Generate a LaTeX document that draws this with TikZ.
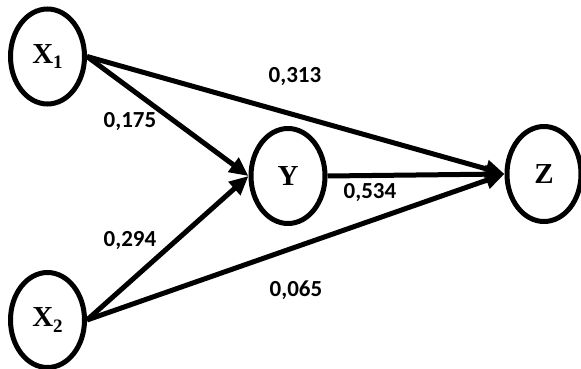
\documentclass[tikz,border=0pt]{standalone}
\usepackage{fontspec}
\setmainfont{Liberation Serif}
\newfontfamily\labelfont{Carlito}
\usetikzlibrary{shapes.geometric,arrows.meta}
\tikzset{
  var/.style={ellipse, draw, line width=5pt, minimum width=74pt, minimum height=95pt, inner sep=0pt,
    font=\fontsize{29}{29}\selectfont\bfseries},
  path/.style={line width=5pt, -{Triangle[length=19pt,width=17pt]}},
  coef/.style={anchor=base, inner sep=0pt, font=\labelfont\fontsize{23}{23}\selectfont\bfseries}
}
\newcommand{\sub}[1]{\raisebox{-0.2em}{\fontsize{19}{19}\selectfont #1}}
\begin{document}
\begin{tikzpicture}[x=1pt,y=-1pt]
\useasboundingbox (0,0) rectangle (581,369);
\node[var] (x1) at (47.5,56.5) {X\sub{1}};
\node[var] (x2) at (47.5,320) {X\sub{2}};
\node[var] (y) at (288,176) {Y};
\node[var] (z) at (544,174) {Z};
\draw[path] (x1.east) -- (y.west);
\draw[path] (x1.east) -- (z.west);
\draw[path] (x2.east) -- (y.west);
\draw[path] (x2.east) -- (z.west);
\draw[path] (y.east) -- (z.west);
\node[coef] (c1) at (295,82) {0,313};
\node[coef] (c2) at (130,127) {0,175};
\node[coef] (c3) at (370,198) {0,534};
\node[coef] (c4) at (130,246) {0,294};
\node[coef] (c5) at (296,296) {0,065};
\end{tikzpicture}
\end{document}
